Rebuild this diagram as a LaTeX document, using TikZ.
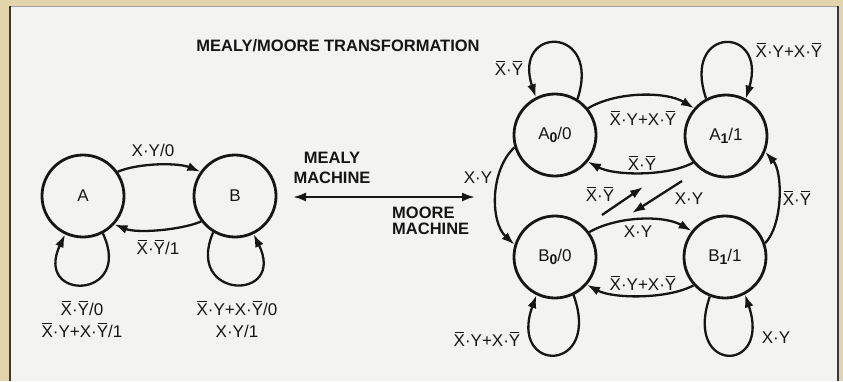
\documentclass[tikz,border=0pt]{standalone}
\usepackage{fontspec}
\setmainfont{Liberation Sans}
\usetikzlibrary{arrows.meta}
\definecolor{beige}{RGB}{228,212,172}
\definecolor{panel}{RGB}{243,244,242}
\definecolor{ink}{RGB}{22,22,22}
\newcommand\ovl[1]{{\setbox0\hbox{#1}\rlap{\kern0.05em\rule[\dimexpr\ht0+1.6pt\relax]{\dimexpr\wd0-0.1em\relax}{0.9pt}}\box0}}
\newcommand\sbd[1]{\raisebox{-2.5pt}{\fontsize{14}{14}\bfseries\selectfont #1}}
\begin{document}
\begin{tikzpicture}[x=1pt,y=-1pt,
  state/.style={circle,draw=ink,line width=2.8pt,minimum size=82pt,inner sep=0pt,text=ink,font=\fontsize{17}{19}\selectfont},
  edge/.style={draw=ink,line width=2.3pt,-{Latex[length=13pt,width=9pt]}},
  dedge/.style={draw=ink,line width=2.3pt,{Latex[length=13pt,width=9pt]}-{Latex[length=13pt,width=9pt]}},
  lab/.style={font=\fontsize{17}{19}\selectfont,inner sep=0pt,text=ink},
  lab2/.style={font=\fontsize{17}{22}\selectfont,inner sep=0pt,text=ink,align=center},
  hd/.style={font=\fontsize{16.5}{20}\bfseries\selectfont,inner sep=0pt,text=ink}]
\useasboundingbox (0,0) rectangle (843,381);
\fill[beige] (0,0) rectangle (843,381);
\fill[panel] (10,6) rectangle (838,381);
\draw[ink!40,line width=0.6pt] (10,6) -- (838,6);
\draw[ink!85,line width=1.6pt] (10,381) -- (10,6);
\draw[ink!85,line width=1.6pt] (838,6) -- (838,381);

% title
\node[hd] (title) at (338,46) {MEALY/MOORE TRANSFORMATION};

% Mealy machine
\node[state] (A) at (83,196) {A};
\node[state] (B) at (235,196) {B};
\draw[edge] (A.35) .. controls +(22,-9) and +(-22,-9) .. (B.145);
\draw[edge] (B.217) .. controls +(-22,9) and +(22,9) .. (A.-42);
\draw[edge] (A.-62) .. controls (134,300) and (33,302) .. (A.-115);
\draw[edge] (B.-121) .. controls (184,300) and (287,302) .. (B.-64);
\node[lab] (lab1) at (153,150) {X·Y/0};
\node[lab] (lab2) at (158,247) {\ovl{X}·\ovl{Y}/1};
\node[lab2] (lab3) at (82,319) {\ovl{X}·\ovl{Y}/0\\\ovl{X}·Y+X·\ovl{Y}/1};
\node[lab2] (lab4) at (237,319) {\ovl{X}·Y+X·\ovl{Y}/0\\X·Y/1};

% transformation arrow
\coordinate (m1) at (293,197);
\coordinate (m2) at (475,197);
\draw[dedge] (m1) -- (m2);
\node[hd,align=center,font=\fontsize{16.5}{20}\bfseries\selectfont] (mealy) at (332,168) {MEALY\\MACHINE};
\node[hd,align=left,anchor=west,font=\fontsize{16.5}{16.5}\bfseries\selectfont] (moore) at (392,221) {MOORE\\MACHINE};

% Moore machine
\node[state] (A0) at (555,135) {A\sbd{0}/0};
\node[state] (A1) at (726,136) {A\sbd{1}/1};
\node[state] (B0) at (555,257) {B\sbd{0}/0};
\node[state] (B1) at (725,257) {B\sbd{1}/1};

\draw[edge] (A0.58) .. controls (602,25) and (512,25) .. (A0.117);
\draw[edge] (A1.118) .. controls (681,25) and (768,25) .. (A1.62);
\draw[edge] (A0.39) .. controls +(28,-17) and +(-28,-17) .. (A1.139);
\draw[edge] (A1.219) .. controls +(-26,14) and +(26,14) .. (A0.-39);
\draw[edge] (A0.197) .. controls (490,170) and (490,222) .. (B0.163);
\draw[edge] (B0.36) .. controls +(28,-16) and +(-28,-16) .. (B1.142);
\draw[edge] (B1.222) .. controls +(-26,14) and +(26,14) .. (B0.-41);
\draw[edge] (B1.19) .. controls (783,225) and (783,172) .. (A1.-22);
\draw[edge] (B0.-64) .. controls (602,374) and (508,374) .. (B0.-116);
\draw[edge] (B1.-111) .. controls (683,374) and (772,374) .. (B1.-62);

\coordinate (d1s) at (602,215);
\coordinate (d1e) at (643,187);
\coordinate (d2s) at (682,181);
\coordinate (d2e) at (632,213);
\draw[edge] (d1s) -- (d1e);
\draw[edge] (d2s) -- (d2e);

\node[lab] (r1) at (509,68) {\ovl{X}·\ovl{Y}};
\node[lab] (r2) at (789,50) {\ovl{X}·Y+X·\ovl{Y}};
\node[lab] (r3) at (643,118) {\ovl{X}·Y+X·\ovl{Y}};
\node[lab] (r4) at (642,163) {\ovl{X}·\ovl{Y}};
\node[lab] (r5) at (478,178) {X·Y};
\node[lab] (r6) at (600,194) {\ovl{X}·\ovl{Y}};
\node[lab] (r7) at (689,199) {X·Y};
\node[lab] (r8) at (638,232) {X·Y};
\node[lab] (r9) at (643,283) {\ovl{X}·Y+X·\ovl{Y}};
\node[lab] (r10) at (797,198) {\ovl{X}·\ovl{Y}};
\node[lab] (r11) at (487,339) {\ovl{X}·Y+X·\ovl{Y}};
\node[lab] (r12) at (776,338) {X·Y};
\end{tikzpicture}
\end{document}
